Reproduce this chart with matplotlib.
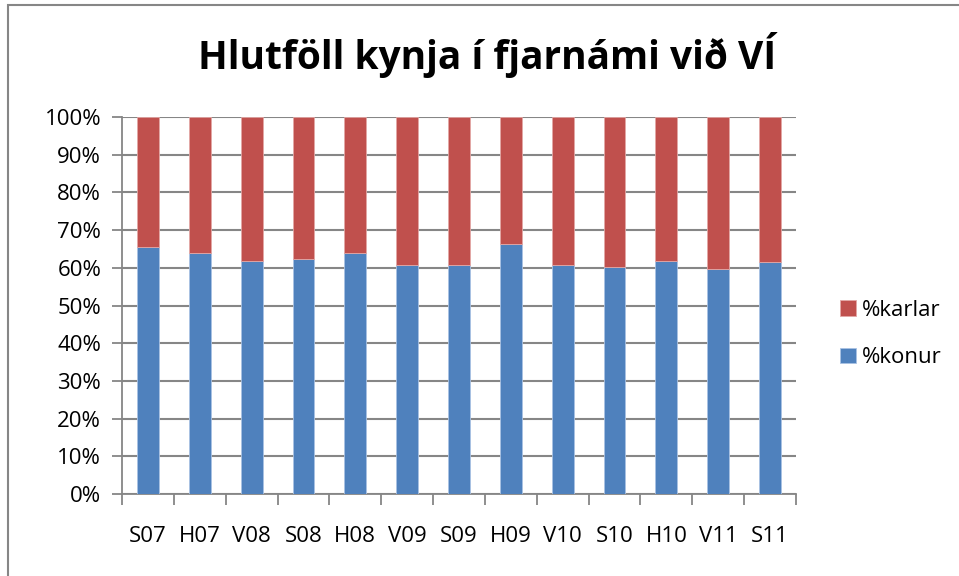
import matplotlib.pyplot as plt
from matplotlib.patches import Rectangle
import numpy as np

plt.rcParams['font.family'] = ['Open Sans', 'DejaVu Sans']

terms = ["S07", "H07", "V08", "S08", "H08", "V09", "S09", "H09", "V10", "S10", "H10", "V11", "S11"]
konur = [65.6, 63.9, 61.7, 62.3, 63.8, 60.7, 60.7, 66.2, 60.7, 60.3, 61.8, 59.6, 61.6]
karlar = [100 - k for k in konur]

grey = "#868686"
fig = plt.figure(figsize=(9.59, 5.76), dpi=100)
ax = fig.add_axes([122 / 959, 1 - 494 / 576, (796 - 122) / 959, (494 - 117) / 576])

x = np.arange(len(terms))
ax.bar(x, konur, width=0.42, color="#4f81bd", edgecolor="#a9c2e3", linewidth=0.6, label="%konur", zorder=3)
ax.bar(x, karlar, width=0.42, bottom=konur, color="#c0504d", edgecolor="#e3a7a5", linewidth=0.6, label="%karlar", zorder=3)

ax.set_xlim(-0.5, len(terms) - 0.5)
ax.set_ylim(0, 100)
ax.set_yticks(np.arange(0, 101, 10))
ax.set_yticklabels([f"{v}%" for v in range(0, 101, 10)], fontsize=16)
ax.set_xticks(x)
ax.set_xticklabels(terms, fontsize=16)
ax.set_xticks(np.arange(-0.5, len(terms)), minor=True)
ax.tick_params(axis="x", which="major", length=0, pad=23)
ax.tick_params(axis="x", which="minor", length=8, color=grey, width=1.3)
ax.tick_params(axis="y", length=7, color=grey, width=1.3, pad=8)
ax.yaxis.grid(True, color=grey, linewidth=1.5, zorder=0)
ax.set_axisbelow(True)
for s in ["top", "right"]:
    ax.spines[s].set_visible(False)
for s in ["left", "bottom"]:
    ax.spines[s].set_color(grey)
    ax.spines[s].set_linewidth(1.3)

fig.text(487 / 959, 1 - 55 / 576, "Hlutföll kynja í fjarnámi við VÍ", ha="center", va="center",
         fontsize=28, fontweight="bold")

handles, labels = ax.get_legend_handles_labels()
fig.legend(handles[::-1], labels[::-1], loc="center left", bbox_to_anchor=(820 / 959, 1 - 334 / 576),
           frameon=False, fontsize=16, handlelength=0.7, handleheight=0.7, handletextpad=0.3, labelspacing=1.2)

fig.add_artist(Rectangle((8 / 959, -0.1), 2, 1 - 5 / 576 + 0.1, transform=fig.transFigure,
                         fill=False, edgecolor=grey, linewidth=1.5))

fig.savefig("out.png", dpi=100)
